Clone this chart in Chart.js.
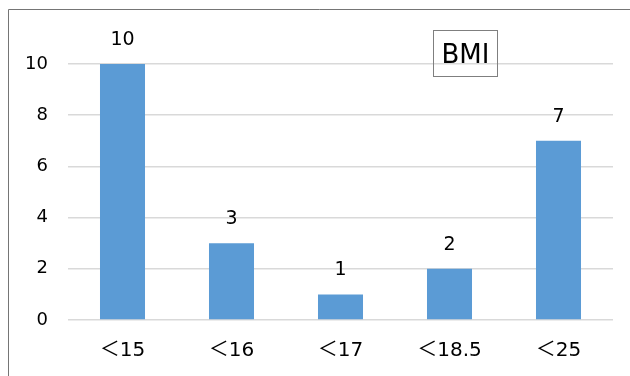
<!DOCTYPE html>
<html>
<head>
<meta charset="utf-8">
<script src="https://cdn.jsdelivr.net/npm/chart.js@4/dist/chart.umd.min.js"></script>
<style>
  html, body { margin: 0; padding: 0; background: #ffffff; overflow: hidden; }
  #wrap { position: relative; width: 630px; height: 376px; }
</style>
</head>
<body>
<div id="wrap"><canvas id="bmiChart"></canvas></div>
<script>
// BMI distribution counts
const categories = ["＜15", "＜16", "＜17", "＜18.5", "＜25"];
const counts = [10, 3, 1, 2, 7];
const yTicks = [0, 2, 4, 6, 8, 10];
const chartTitle = "BMI";

const BAR_BLUE = "#5b9bd5";
const TEXT_FONT = '"DejaVu Sans", "Noto Sans CJK JP", sans-serif';

// frame line along the top and left edge only
const framePlugin = {
  id: "frame",
  beforeDraw(chart) {
    const ctx = chart.ctx;
    ctx.save();
    ctx.strokeStyle = "#757575";
    ctx.lineWidth = 1;
    ctx.beginPath();
    ctx.moveTo(8.5, chart.height);
    ctx.lineTo(8.5, 9.5);
    ctx.lineTo(chart.width, 9.5);
    ctx.stroke();
    ctx.restore();
  },
};

// value labels above each bar
const valueLabels = {
  id: "valueLabels",
  afterDatasetsDraw(chart) {
    const ctx = chart.ctx;
    const meta = chart.getDatasetMeta(0);
    ctx.save();
    ctx.fillStyle = "#000000";
    ctx.font = "19px " + TEXT_FONT;
    ctx.textAlign = "center";
    ctx.textBaseline = "alphabetic";
    meta.data.forEach((bar, i) => {
      ctx.fillText(String(counts[i]), bar.x, bar.y - 19);
    });
    ctx.restore();
  },
};

// boxed title in the upper right
const boxedTitle = {
  id: "boxedTitle",
  afterDraw(chart) {
    const ctx = chart.ctx;
    ctx.save();
    ctx.strokeStyle = "#7f7f7f";
    ctx.lineWidth = 1;
    ctx.strokeRect(433.5, 30.5, 64, 46);
    ctx.fillStyle = "#000000";
    ctx.font = "26px " + TEXT_FONT;
    ctx.textAlign = "center";
    ctx.textBaseline = "alphabetic";
    ctx.fillText(chartTitle, 465.5, 63);
    ctx.restore();
  },
};

const ctx = document.getElementById("bmiChart").getContext("2d");
new Chart(ctx, {
  type: "bar",
  data: {
    labels: categories,
    datasets: [
      {
        data: counts,
        backgroundColor: BAR_BLUE,
        borderWidth: 0,
        categoryPercentage: 1,
        barPercentage: 0.413,
      },
    ],
  },
  options: {
    responsive: true,
    maintainAspectRatio: false,
    animation: false,
    events: [],
    layout: { padding: { left: 0, top: 64, right: 17, bottom: 0 } },
    plugins: {
      legend: { display: false },
      tooltip: { enabled: false },
      title: { display: false },
    },
    scales: {
      x: {
        grid: { display: false, drawTicks: false },
        border: { display: false },
        ticks: {
          color: "#000000",
          font: { family: TEXT_FONT, size: 20 },
          padding: 19,
          maxRotation: 0,
        },
        afterFit(scale) { scale.height = 56; },
      },
      y: {
        min: 0,
        max: 10,
        afterBuildTicks(scale) { scale.ticks = yTicks.map(v => ({ value: v })); },
        grid: { color: "#d9d9d9", lineWidth: 1.5, drawTicks: false },
        border: { display: false },
        ticks: {
          color: "#000000",
          font: { family: TEXT_FONT, size: 18 },
          padding: 20,
        },
        afterFit(scale) { scale.width = 68; },
      },
    },
  },
  plugins: [framePlugin, valueLabels, boxedTitle],
});
</script>
</body>
</html>
